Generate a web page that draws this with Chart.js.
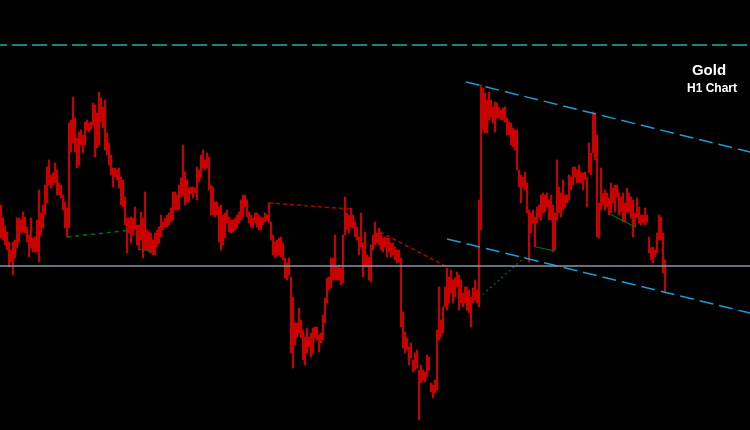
<!DOCTYPE html>
<html>
<head>
<meta charset="utf-8">
<script src="https://cdn.jsdelivr.net/npm/chart.js@4.4.0/dist/chart.umd.min.js"></script>
<style>
  html, body { margin: 0; padding: 0; background: #000; }
  #wrap { position: relative; width: 750px; height: 430px; background: #000; overflow: hidden; }
  .lbl { position: absolute; color: #fff; font-family: "Liberation Sans", Arial, sans-serif; font-weight: bold; text-align: center; white-space: nowrap; }
  #t1 { left: 659px; width: 100px; top: 62px; font-size: 15px; line-height: 15px; }
  #t2 { left: 662px; width: 100px; top: 82px; font-size: 12px; line-height: 12px; }
</style>
</head>
<body>
<div id="wrap">
  <canvas id="chart"></canvas>
  <div class="lbl" id="t1">Gold</div>
  <div class="lbl" id="t2">H1 Chart</div>
</div>
<script>
// hourly bars, price in chart points (bottom of window = 0)
const highs = [
  225,212,204,198,188,180,188,190,212,212,210,218,213,203,195,212,192,193,210,240,
  217,225,245,263,270,255,257,267,260,247,245,235,228,222,307,310,333,312,292,298,
  300,295,308,310,307,308,327,325,317,338,332,323,330,297,287,275,262,262,260,262,
  253,250,233,212,212,213,212,223,205,205,218,212,238,200,198,197,190,197,200,203,
  215,208,212,215,217,222,238,238,235,245,252,285,258,250,242,243,243,242,263,260,
  275,280,270,277,273,245,243,228,228,223,225,215,217,220,213,210,210,212,215,218,
  230,235,235,230,218,215,212,217,217,215,213,212,217,215,227,208,195,188,190,192,
  193,187,172,167,172,153,133,107,107,122,110,100,93,102,93,97,102,103,103,95,
  97,115,132,152,153,172,172,195,163,165,162,195,233,217,215,222,215,208,203,193,
  217,187,198,175,173,185,195,208,197,202,197,192,193,192,192,187,187,183,180,180,
  172,118,98,92,83,87,70,77,80,60,65,60,58,75,73,47,45,50,100,143,
  110,123,143,162,153,160,150,152,158,155,150,137,143,143,140,133,142,150,140,230,
  345,342,337,330,338,330,323,328,327,323,320,322,323,312,308,307,302,300,300,260,
  255,253,258,247,220,217,220,213,223,225,235,237,235,237,230,235,225,217,270,243,
  237,250,235,235,255,253,263,263,260,265,258,257,258,253,287,277,318,317,295,227,
  262,237,240,237,232,247,242,245,245,237,233,237,227,242,237,233,230,217,232,223,
  215,215,222,215,193,182,183,180,197,215,213,197,170
];
const lows = [
  192,190,185,180,163,168,155,172,182,188,197,198,197,188,173,182,178,178,178,168,
  195,202,215,227,245,242,245,247,235,235,232,220,202,193,202,278,287,278,262,265,
  285,277,285,300,298,300,305,273,282,285,308,302,280,275,265,255,243,253,250,242,
  225,223,205,177,197,187,195,200,185,180,190,172,180,180,178,177,175,175,183,187,
  193,200,203,203,205,208,210,220,220,220,233,235,225,228,228,237,232,237,230,248,
  252,262,260,262,240,215,215,213,215,188,180,185,192,207,198,197,198,200,202,207,
  210,213,223,213,207,203,202,207,203,200,200,205,208,210,207,190,175,172,174,175,
  173,170,152,150,155,77,62,85,93,97,92,70,65,77,83,73,77,92,90,78,
  87,90,107,127,140,142,150,150,150,150,145,147,195,200,197,203,202,193,190,175,
  183,153,163,163,150,148,180,185,187,185,180,178,183,173,178,173,175,170,167,168,
  103,82,77,80,65,72,58,60,62,10,47,50,48,53,60,38,32,37,40,90,
  93,97,123,120,127,137,127,133,143,120,127,123,127,120,117,103,127,130,127,123,
  200,300,297,297,310,313,307,298,312,312,310,310,308,295,295,285,283,280,260,243,
  227,243,240,217,168,197,207,183,207,213,210,217,218,223,210,210,178,180,210,217,
  213,220,222,227,230,240,245,253,247,248,247,240,250,223,257,255,277,270,193,192,
  220,225,220,223,215,217,227,218,233,215,218,208,208,218,217,212,193,203,213,207,
  205,207,205,208,177,170,167,173,177,190,190,157,137
];

// reference lines: [bar index, price]
const resistanceLevel = 385;
const pivotLevel = 164;
const upperChannel = [[232.5, 348], [374.5, 278]];
const lowerChannel = [[223, 191], [374.5, 117]];
const redTrend1 = [[134, 227], [174.5, 221]];
const redTrend2 = [[189.5, 198], [223, 163]];
const greenTrend1 = [[33, 193], [65.5, 200]];
const greenTrend2 = [[69, 181], [77, 178]];
const greenTrend3 = [[239, 132], [263, 175]];
const greenTrend4 = [[267.5, 183], [277, 179]];
const greenTrend5 = [[304.5, 216], [317, 203]];

const X_MIN = -0.5, X_MAX = 374.5;

function seg(pts, color, width, dash, offset) {
  return {
    type: "line",
    data: pts.map(([x, y]) => ({ x, y })),
    borderColor: color,
    borderWidth: width,
    borderDash: dash || [],
    borderDashOffset: offset || 0,
    pointRadius: 0,
    fill: false,
    tension: 0,
    order: 1,
  };
}

const bars = highs.map((h, i) => ({ x: i, y: [lows[i], h] }));

new Chart(document.getElementById("chart"), {
  type: "bar",
  data: {
    datasets: [
      {
        type: "bar",
        data: bars,
        backgroundColor: "#c80000",
        borderWidth: 0,
        barThickness: 1.4,
        grouped: false,
        order: 2,
      },
      seg([[X_MIN, resistanceLevel], [X_MAX, resistanceLevel]], "#22aeb0", 1.5, [15, 5], 8),
      seg([[X_MIN, pivotLevel], [X_MAX, pivotLevel]], "#8a96a3", 1.5),
      seg(upperChannel, "#1f9bd1", 1.5, [14, 6]),
      seg(lowerChannel, "#1f9bd1", 1.5, [14, 6]),
      seg(redTrend1, "#b00000", 1.5, [4, 3]),
      seg(redTrend2, "#b00000", 1.5, [4, 3]),
      seg(greenTrend1, "#0b6e0b", 1.5, [4, 4]),
      seg(greenTrend2, "#0b6e0b", 1.2),
      seg(greenTrend3, "#0b6e0b", 1.2, [2, 3]),
      seg(greenTrend4, "#0b6e0b", 1.2),
      seg(greenTrend5, "#0b6e0b", 1.2),
    ],
  },
  options: {
    responsive: true,
    maintainAspectRatio: false,
    animation: false,
    layout: { padding: 0 },
    plugins: { legend: { display: false }, tooltip: { enabled: false } },
    scales: {
      x: { type: "linear", min: X_MIN, max: X_MAX, offset: false, display: false },
      y: { min: 0, max: 430, display: false },
    },
  },
});
</script>
</body>
</html>
